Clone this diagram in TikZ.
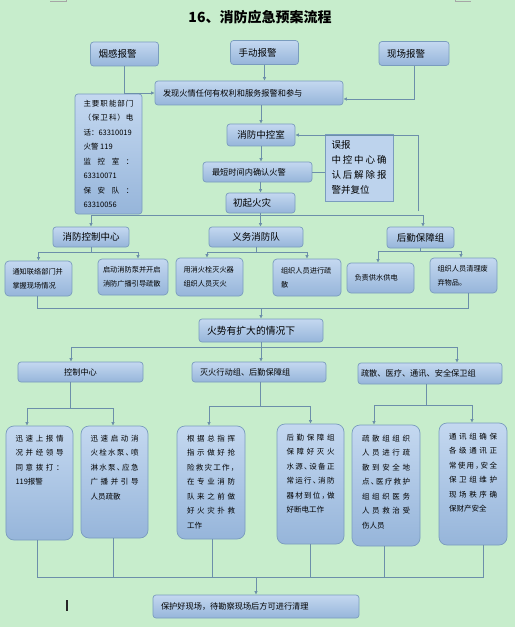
\documentclass[tikz,border=0pt]{standalone}
\usepackage{fontspec}
\setmainfont{Noto Sans CJK SC}
\usetikzlibrary{arrows.meta}

\definecolor{bgc}{RGB}{199,237,204}
\definecolor{boxtop}{RGB}{196,216,240}
\definecolor{boxbot}{RGB}{150,181,218}
\definecolor{bordc}{RGB}{122,156,190}
\definecolor{linec}{RGB}{108,143,170}

\newcommand{\hdfont}{\fontsize{9.5bp}{11bp}\selectfont}
\newcommand{\smfont}{\fontsize{8.2bp}{10bp}\selectfont}
\newcommand{\sbfont}{\fontsize{7.2bp}{14bp}\selectfont}
\newcommand{\tnfont}{\fontsize{7.5bp}{14.5bp}\selectfont}
\newcommand{\wbfont}{\fontsize{9.5bp}{15bp}\selectfont}
% one line spread over a fixed width
\def\jlend{}
\def\jlx#1#2{#1\ifx\jlend#2\else\hfil\expandafter\jlx\fi#2}
\newcommand{\jl}[2][48bp]{\hbox to #1{\jlx#2\jlend}}
\newcommand{\colbox}[2]{\parbox[c][#1][t]{48bp}{\tnfont #2}}
% half width punctuation
\newcommand{\dun}{\makebox[.55em][l]{、}}
\newcommand{\dou}{\makebox[.55em][l]{，}}

\begin{document}
\begin{tikzpicture}[x=1bp, y=-1bp,
  base/.style={draw=bordc, line width=0.7bp, top color=boxtop, bottom color=boxbot,
    inner sep=0pt, rounded corners=3bp},
  bx/.style 2 args={base, minimum width=#1bp, minimum height=#2bp},
  subbx/.style 2 args={bx={#1}{#2}, rounded corners=4bp, font=\sbfont, align=left},
  colbx/.style 2 args={bx={#1}{#2}, rounded corners=8bp},
  ln/.style={draw=linec, line width=0.8bp},
  arr/.style={ln, -{Latex[length=3.5bp,width=3.5bp]}}]

  \useasboundingbox (0,0) rectangle (515,627);
  \fill[bgc] (0,0) rectangle (515,627);
  % page corner marks
  \draw[gray!70, line width=0.6bp] (50,1.5) -- (66.5,1.5) -- (66.5,0);
  \draw[gray!70, line width=0.6bp] (455,0) -- (455,1.5) -- (471,1.5);

  % title
  \node[font=\bfseries\fontsize{14bp}{16bp}\selectfont] (title) at (260,17) {16、消防应急预案流程};

  % alarms
  \node[bx={68}{24}, text width=52bp, align=left, font=\hdfont] (yg) at (124.5,54) {烟感报警};
  \node[bx={68}{24}, text width=52bp, align=left, font=\hdfont] (sd) at (264.5,52.5) {手动报警};
  \node[bx={70}{24}, text width=54bp, align=left, font=\hdfont] (xc) at (414,53.5) {现场报警};
  \node[bx={188}{24}, text width=172bp, align=left, font=\smfont] (fx) at (249,93) {发现火情任何有权利和服务报警和参与};

  % phone numbers
  \node[bx={67}{120}] (zy) at (108.5,154)
    {\parbox{50bp}{\tnfont \jl[50bp]{主要职能部门}\jl[50bp]{（保卫科）电}话：63310019\par 火警 119\par
     \jl[50bp]{监控室：}63310071\par \jl[50bp]{保安队：}63310056}};

  % control room
  \node[bx={68}{22}, font=\hdfont] (zk) at (261,135) {消防中控室};
  \node[bx={109}{20}, text width=91bp, align=left, font=\smfont] (qr) at (257.5,172) {最短时间内确认火警};
  \node[bx={69}{20}, text width=55bp, align=left, font=\hdfont] (cq) at (260.5,203) {初起火灾};
  \node[draw=bordc, line width=0.7bp, fill=boxtop!85!boxbot, inner sep=0pt, minimum width=68bp,
    minimum height=67bp] (wb) at (359,167.5)
    {\parbox{55bp}{\wbfont 误报\par \jl[55bp]{中控中心确}\jl[55bp]{认后解除报}警并复位}};

  \draw[arr] (sd.south) -- (sd.south |- fx.north);
  \draw[arr] (yg.south) |- (fx.west);
  \draw[arr] (xc.south) |- ([yshift=-6bp]fx.east);
  \draw[arr] (zk.north |- fx.south) -- (zk.north);
  \draw[arr] (zk.south) -- (zk.south |- qr.north);
  \draw[arr] (cq.north |- qr.south) -- (cq.north);
  \draw[ln] (qr.east) -- (qr.east -| wb.west);
  \coordinate (fb) at (418,211);
  \draw[arr] (fb) |- (zk.east);

  % first response
  \node[bx={76}{20}, font=\hdfont] (xk) at (91,237) {消防控制中心};
  \node[bx={94}{20}, font=\hdfont] (yw) at (256,237) {义务消防队};
  \node[bx={67}{21}, font=\hdfont] (hq) at (420.5,237.5) {后勤保障组};

  \coordinate (bus1) at (0,215);
  \draw[ln] (xk.north |- bus1) -- ([xshift=2.5bp]hq.north |- bus1);
  \draw[arr] (xk.north |- bus1) -- (xk.north);
  \draw[arr] (cq.south) -- (cq.south |- yw.north);
  \draw[arr] ([xshift=2.5bp]hq.north |- bus1) -- ([xshift=2.5bp]hq.north);

  \node[subbx={67}{35}, text width=52bp] (s1) at (38.5,278.5) {通知联络部门并\\掌握现场情况};
  \node[subbx={70}{36}, text width=60bp] (s2) at (133,277) {启动消防泵并开启\\消防广播引导疏散};
  \node[subbx={67}{38}, text width=52bp] (s3) at (209.5,277) {用消火栓灭火器\\组织人员灭火};
  \node[subbx={68}{37}, text width=52bp] (s4) at (307,277.5) {组织人员进行疏\\散};
  \node[subbx={67}{30}, text width=52bp] (s5) at (380.5,278) {负责供水供电};
  \node[subbx={67}{35}, text width=52bp] (s6) at (463.5,275.5) {组织人员清理废\\弃物品。};

  \draw[ln] (xk.south) -- ++(0,5) coordinate (j1);
  \draw[arr] (j1) -| (s1.north);
  \draw[arr] (j1) -| ([xshift=5bp]s2.north);
  \draw[ln] (yw.south) -- ++(0,5) coordinate (j2);
  \draw[arr] (j2) -| ([xshift=-2.5bp]s3.north);
  \draw[arr] (j2) -| (s4.north);
  \draw[ln] (hq.south) -- ++(0,3) coordinate (j3);
  \draw[arr] (j3) -| ([xshift=-2.5bp]s5.north);
  \draw[arr] (j3) -| ([xshift=-2.5bp]s6.north);

  % fire spreading
  \node[bx={124}{23}, text width=108bp, align=left, font=\fontsize{9.8bp}{11bp}\selectfont] (hs) at (261,330.5) {火势有扩大的情况下};

  \coordinate (bus2) at (0,308);
  \draw[ln] ([xshift=-1.5bp]s1.south) |- ([xshift=4.5bp]s6.south |- bus2) -- ([xshift=4.5bp]s6.south);
  \draw[arr] (hs.north |- bus2) -- (hs.north);

  \node[bx={125}{20}, font=\smfont] (kz) at (80.5,372) {控制中心};
  \node[bx={134}{20}, text width=118bp, align=left, font=\smfont] (mh) at (259,372) {灭火行动组、后勤保障组};
  \node[bx={144}{21}, text width=138bp, align=left, font=\smfont] (ss) at (430,373.5) {疏散、医疗、通讯、安全保卫组};

  \draw[ln] (hs.south) -- ++(0,5) coordinate (j4);
  \draw[arr] (j4) -| ([xshift=-9.5bp]kz.north);
  \draw[arr] (j4) -- (j4 |- mh.north);
  \draw[arr] (j4) -| ([xshift=27bp]ss.north);

  % tasks
  \node[colbx={67}{114}] (b1) at (39.5,483) {\colbox{96bp}{\jl{迅速上报情}\jl{况并经领导}\jl{同意拨打：}119报警}};
  \node[colbx={67}{112}] (b2) at (114.5,482) {\colbox{94bp}{\jl{迅速启动消}\jl{火栓水泵\dun 喷}\jl{淋水泵\dun 应急}\jl{广播并引导}人员疏散}};
  \node[colbx={68}{113}] (b3) at (211,482.5) {\colbox{95bp}{\jl{根据总指挥}\jl{指示做好抢}\jl{险救灾工作\dou}\jl{在专业消防}\jl{队来之前做}\jl{好火灾扑救}工作}};
  \node[colbx={67}{120}] (b4) at (310.5,484) {\colbox{100bp}{\jl{后勤保障组}\jl{保障好灭火}\jl{水源\dun 设备正}\jl{常运行\dun 消防}\jl{器材到位\dou 做}好断电工作}};
  \node[colbx={68}{121}] (b5) at (386,485.5) {\colbox{101bp}{\jl{疏散组组织}\jl{人员进行疏}\jl{散到安全地}\jl{点\dun 医疗救护}\jl{组组织医务}\jl{人员救治受}伤人员}};
  \node[colbx={68}{122}] (b6) at (473,484) {\colbox{102bp}{\jl{通讯组确保}\jl{各级通讯正}\jl{常使用\dou 安全}\jl{保卫组维护}\jl{现场秩序确}保财产安全}};

  \draw[ln] ([xshift=-10.5bp]kz.south) -- ++(0,26) coordinate (j5);
  \draw[arr] (j5) -| ([xshift=-12.5bp]b1.north);
  \draw[arr] (j5) -| ([xshift=-1.5bp]b2.north);
  \draw[ln] ([xshift=1bp]mh.south) -- ++(0,24) coordinate (j6);
  \draw[arr] (j6) -| ([xshift=-2bp]b3.north);
  \draw[arr] (j6) -| (b4.north);
  \draw[ln] ([xshift=-4bp]ss.south) -- ++(0,21.5) coordinate (j7);
  \draw[arr] (j7) -| ([xshift=-12bp]b5.north);
  \draw[arr] (j7) -| ([xshift=-1bp]b6.north);

  % collect
  \coordinate (bus3) at (0,577);
  \draw[ln] ([xshift=-2.5bp]b1.south) |- ([xshift=10bp]b6.south |- bus3) -- ([xshift=10bp]b6.south);
  \foreach \b/\dx in {b2/-1.5, b3/1, b4/-0.5, b5/-2}
    \draw[ln] ([xshift=\dx bp]\b.south) -- ([xshift=\dx bp]\b.south |- bus3);

  \node[bx={206}{23}, text width=190bp, align=left, font=\smfont] (fin) at (256,606.5) {保护好现场，待勘察现场后方可进行清理};
  \draw[arr] (bus3 -| fin.north) -- (fin.north);

  % text cursor
  \fill[black!85] (66,600) rectangle (68,611);
\end{tikzpicture}
\end{document}
